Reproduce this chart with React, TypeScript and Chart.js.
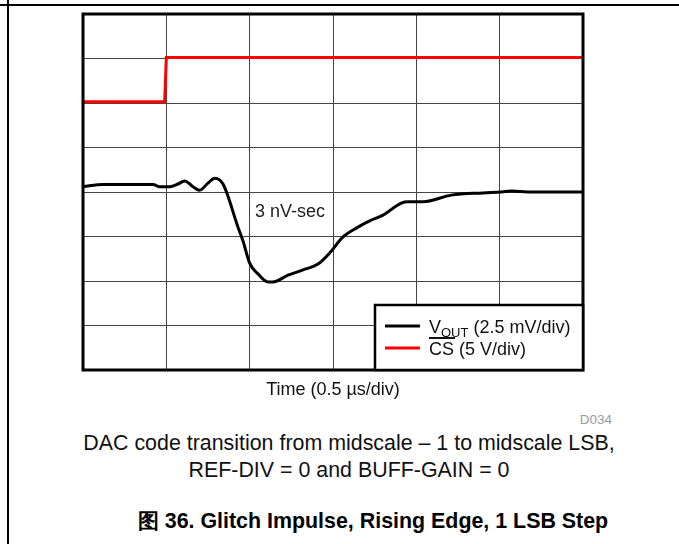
import React, { useEffect, useRef } from 'react';
import { Chart, registerables } from 'chart.js';

Chart.register(...registerables);

const FONT = 'Arial, "Liberation Sans", Helvetica, sans-serif';

// Time in microseconds (0.5 µs per division), level in screen divisions (2.5 mV/div)
const voutTime = [0, 0.12, 0.3, 0.42, 0.46, 0.52, 0.57, 0.61, 0.66, 0.7, 0.75, 0.79, 0.84, 0.93, 0.96, 1.0, 1.05, 1.11, 1.14, 1.23, 1.32, 1.41, 1.48, 1.56, 1.65, 1.72, 1.8, 1.91, 1.95, 2.04, 2.21, 2.4, 2.51, 2.57, 2.67, 2.85, 3.0];
const voutLevel = [4.12, 4.17, 4.17, 4.17, 4.12, 4.12, 4.18, 4.25, 4.12, 4.04, 4.2, 4.31, 4.18, 3.21, 2.9, 2.4, 2.16, 1.98, 1.98, 2.13, 2.25, 2.38, 2.63, 2.99, 3.21, 3.35, 3.48, 3.75, 3.78, 3.78, 3.93, 3.98, 4.0, 4.02, 4.0, 4.0, 4.0];

const csTime = [0, 0.49, 0.5, 3.0];
const csLevel = [6.03, 6.03, 7.02, 7.02];

const xMax = 3;
const xStep = 0.5;
const yMax = 8;
const yStep = 1;

const legendLabels = ['(2.5 mV/div)', '(5 V/div)'];
const annotationText = '3 nV-sec';

export default function App() {
  const ref = useRef<HTMLCanvasElement>(null);

  useEffect(() => {
    const overlay = {
      id: 'overlay',
      afterDatasetsDraw(chart: any) {
        const { ctx, chartArea } = chart;
        const { left, top, right, bottom } = chartArea;
        ctx.save();
        ctx.strokeStyle = '#000';
        ctx.lineWidth = 3;
        ctx.strokeRect(left, top, right - left, bottom - top);

        ctx.fillStyle = '#222';
        ctx.font = `18px ${FONT}`;
        ctx.textBaseline = 'middle';
        ctx.textAlign = 'left';
        ctx.fillText(annotationText, 255, 212);

        const bx = 375, by = 305, bw = right - 375, bh = bottom - 305;
        ctx.fillStyle = '#fff';
        ctx.fillRect(bx, by, bw, bh);
        ctx.lineWidth = 2.5;
        ctx.strokeStyle = '#000';
        ctx.strokeRect(bx, by, bw, bh);

        ctx.lineWidth = 3;
        ctx.strokeStyle = '#000';
        ctx.beginPath();
        ctx.moveTo(385, 326);
        ctx.lineTo(420, 326);
        ctx.stroke();
        ctx.strokeStyle = '#ff0000';
        ctx.beginPath();
        ctx.moveTo(385, 348);
        ctx.lineTo(420, 348);
        ctx.stroke();

        ctx.fillStyle = '#111';
        ctx.textBaseline = 'alphabetic';
        ctx.font = `18px ${FONT}`;
        let x = 429;
        ctx.fillText('V', x, 333);
        x += ctx.measureText('V').width;
        ctx.font = `13px ${FONT}`;
        ctx.fillText('OUT', x, 337);
        x += ctx.measureText('OUT').width;
        ctx.font = `18px ${FONT}`;
        ctx.fillText(' ' + legendLabels[0], x, 333);

        ctx.fillText('CS', 429, 355);
        const csw = ctx.measureText('CS').width;
        ctx.fillText(' ' + legendLabels[1], 429 + csw, 355);
        ctx.fillRect(429, 337, csw + 1, 2);
        ctx.restore();
      },
    };

    const chart = new Chart(ref.current as HTMLCanvasElement, {
      type: 'line',
      data: {
        datasets: [
          {
            label: 'CS',
            data: csTime.map((t, i) => ({ x: t, y: csLevel[i] })),
            borderColor: '#ff0000',
            borderWidth: 3,
            pointRadius: 0,
            tension: 0,
            fill: false,
          },
          {
            label: 'VOUT',
            data: voutTime.map((t, i) => ({ x: t, y: voutLevel[i] })),
            borderColor: '#000',
            borderWidth: 3,
            pointRadius: 0,
            cubicInterpolationMode: 'monotone',
            fill: false,
          },
        ],
      },
      options: {
        animation: false,
        responsive: false,
        devicePixelRatio: 1,
        layout: { padding: { left: 83, right: 96, top: 14, bottom: 30 } },
        plugins: { legend: { display: false }, tooltip: { enabled: false } },
        scales: {
          x: {
            type: 'linear',
            min: 0,
            max: xMax,
            ticks: { display: false, stepSize: xStep },
            grid: { color: '#444', lineWidth: 1, drawTicks: false },
            border: { display: false },
          },
          y: {
            type: 'linear',
            min: 0,
            max: yMax,
            ticks: { display: false, stepSize: yStep },
            grid: { color: '#444', lineWidth: 1, drawTicks: false },
            border: { display: false },
          },
        },
      },
      plugins: [overlay],
    });
    return () => chart.destroy();
  }, []);

  const center = (cx: number, cy: number, size: number, extra: any = {}) => ({
    position: 'absolute' as const,
    left: cx,
    top: cy - size * 0.6,
    transform: 'translateX(-50%)',
    whiteSpace: 'nowrap' as const,
    fontSize: size,
    lineHeight: `${size * 1.2}px`,
    color: '#111',
    ...extra,
  });

  return (
    <div style={{ position: 'absolute', left: 0, top: 0, width: 679, height: 544, background: '#fff', fontFamily: FONT, overflow: 'hidden' }}>
      <div style={{ position: 'absolute', left: 0, top: 4, width: 679, height: 1.5, background: '#000' }} />
      <div style={{ position: 'absolute', left: 7, top: 0, width: 1.5, height: 544, background: '#000' }} />
      <canvas ref={ref} width={679} height={400} style={{ position: 'absolute', left: 0, top: 0 }} />
      <div style={center(333, 390, 18)}>Time (0.5 µs/div)</div>
      <div style={{ position: 'absolute', right: 679 - 612, top: 411, fontSize: 13.5, lineHeight: '17px', color: '#9a9a9a' }}>D034</div>
      <div style={center(349, 444, 21.4)}>DAC code transition from midscale – 1 to midscale LSB,</div>
      <div style={center(349, 471, 21.4)}>REF-DIV = 0 and BUFF-GAIN = 0</div>
      <div style={center(373, 522, 21.4, { fontWeight: 'bold', color: '#000' })}>图 36. Glitch Impulse, Rising Edge, 1 LSB Step</div>
    </div>
  );
}
